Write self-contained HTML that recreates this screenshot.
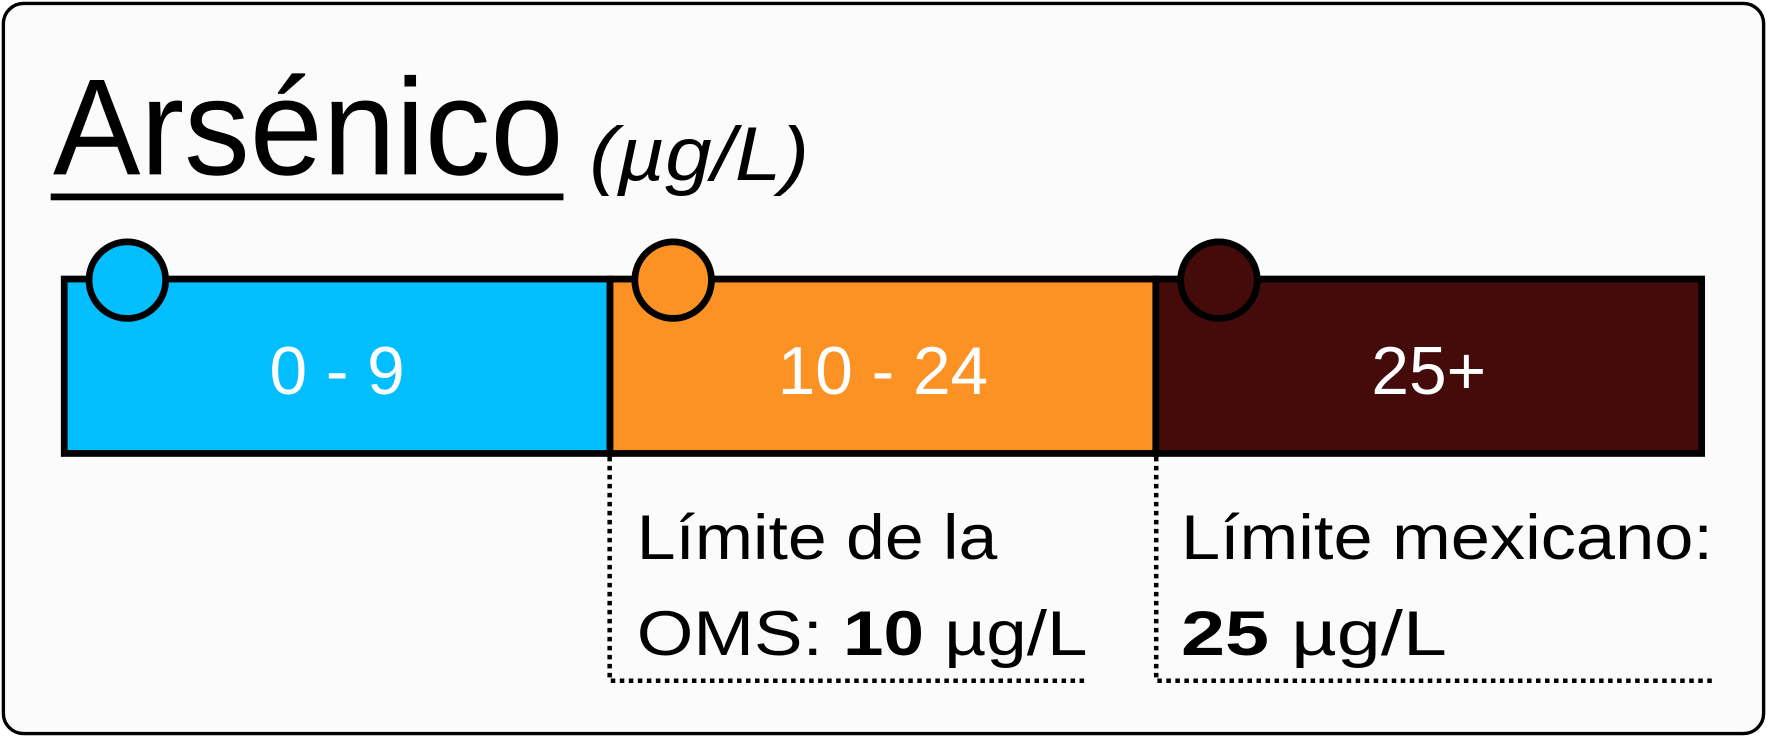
<!DOCTYPE html>
<html><head><meta charset="utf-8"><style>
html,body{margin:0;padding:0;background:#fff;}
svg{display:block;font-family:"Liberation Sans",sans-serif;}
</style></head><body>
<svg width="1767" height="737" viewBox="0 0 1568 655" preserveAspectRatio="none">
<rect x="3" y="3" width="1562" height="649" rx="18" fill="#fbfbfb" stroke="#000" stroke-width="3"/>
<text x="47" y="155" font-size="122" textLength="453" lengthAdjust="spacingAndGlyphs">Arsénico</text>
<rect x="45" y="172" width="455" height="6" fill="#000"/>
<text x="523" y="160" font-size="68" font-style="italic" textLength="195" lengthAdjust="spacingAndGlyphs">(µg/L)</text>
<g id="bars"></g>
<g stroke="#000" stroke-width="4" stroke-dasharray="4 4" fill="none">
<path d="M541 406 V605 H962"/>
<path d="M1026 406 V605 H1520"/>
</g>
<g font-size="56" fill="#000">
<text x="565" y="497" textLength="320" lengthAdjust="spacingAndGlyphs">Límite de la</text>
<text x="565" y="582" textLength="400" lengthAdjust="spacingAndGlyphs">OMS: <tspan font-weight="bold">10</tspan> µg/L</text>
<text x="1048" y="497" textLength="472" lengthAdjust="spacingAndGlyphs">Límite mexicano:</text>
<text x="1048" y="582" textLength="236" lengthAdjust="spacingAndGlyphs"><tspan font-weight="bold">25</tspan> µg/L</text>
</g>
</svg>
<script>
const labels=["0 - 9","10 - 24","25+"];
const colors=["#04bfff","#fc9223","#450a0a"];
const g=document.getElementById('bars');
const NS="http://www.w3.org/2000/svg";
const x0=57,x1=1510,yTop=248,yBot=403;
const segW=(x1-x0)/labels.length;
for(let i=0;i<labels.length;i++){
  const sx=x0+i*segW;
  const r=document.createElementNS(NS,'rect');
  r.setAttribute('x',sx);r.setAttribute('y',yTop);r.setAttribute('width',segW);r.setAttribute('height',yBot-yTop);
  r.setAttribute('fill',colors[i]);r.setAttribute('stroke','#000');r.setAttribute('stroke-width','6');
  
  
  g.appendChild(r);
}
for(let i=0;i<labels.length;i++){
  const sx=x0+i*segW;
  const t=document.createElementNS(NS,'text');
  t.setAttribute('x',sx+segW/2);t.setAttribute('y',350);t.setAttribute('text-anchor','middle');
  t.setAttribute('font-size','60');t.setAttribute('fill','#fff');
  t.textContent=labels[i];
  
  
  g.appendChild(t);
  const c=document.createElementNS(NS,'circle');
  c.setAttribute('cx',sx+56);c.setAttribute('cy',249);c.setAttribute('r',34);
  c.setAttribute('fill',colors[i]);c.setAttribute('stroke','#000');c.setAttribute('stroke-width','6');
  
  
  g.appendChild(c);
}
</script>
</body></html>
